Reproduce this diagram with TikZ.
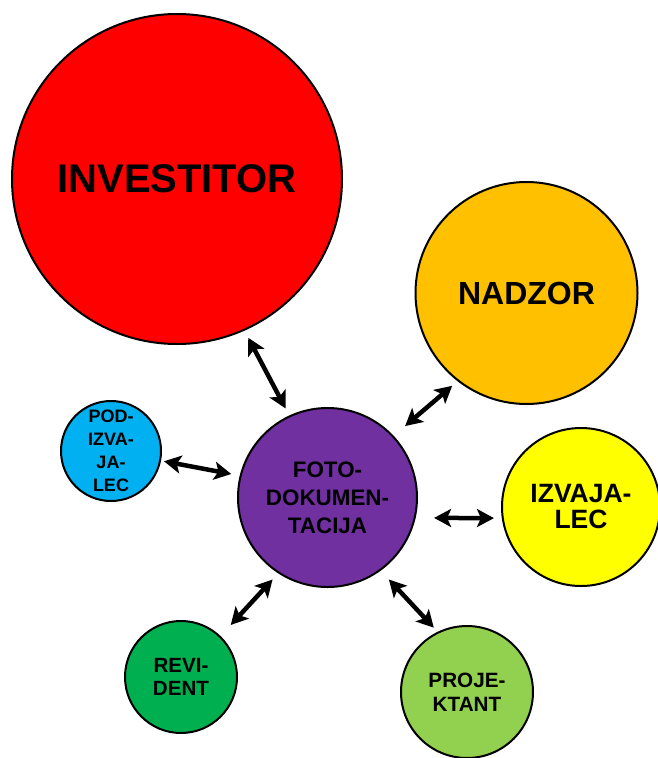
\documentclass[tikz,border=0pt]{standalone}
\usepackage{fontspec}
\setmainfont{Liberation Sans}
\usetikzlibrary{arrows.meta}

\definecolor{cInv}{HTML}{FF0000}
\definecolor{cNad}{HTML}{FFC000}
\definecolor{cFoto}{HTML}{7030A0}
\definecolor{cPod}{HTML}{00B0F0}
\definecolor{cIzv}{HTML}{FFFF00}
\definecolor{cRev}{HTML}{00B050}
\definecolor{cPro}{HTML}{92D050}

\tikzset{
  bubble/.style={circle, draw=black, line width=2pt, inner sep=0pt,
                 align=center, text=black},
  tip/.style={Stealth[length=17pt,width=18pt,inset=4pt]},
  link/.style={line width=4.5pt, {Stealth[length=17pt,width=18pt,inset=4pt]}-{Stealth[length=17pt,width=18pt,inset=4pt]}}
}

\newcommand{\fs}[2]{\bfseries\fontsize{#1}{#2}\selectfont}

\begin{document}
\begin{tikzpicture}[x=1pt,y=-1pt]
\useasboundingbox (0,0) rectangle (658,758);
\clip (0,0) rectangle (658,758);

% participants
\node[bubble, fill=cInv, minimum size=330pt, font=\fs{40}{40}] (inv) at (177,179) {INVESTITOR};
\node[bubble, fill=cNad, minimum size=222pt, font=\fs{32}{32}] (nad) at (526.5,293) {NADZOR};
\node[bubble, fill=cFoto, minimum size=179pt, font=\fs{22.4}{28}] (foto) at (327.5,497.5) {FOTO-\\DOKUMEN-\\TACIJA};
\node[bubble, fill=cPod, minimum size=100pt, font=\fs{18}{23}] (pod) at (111,451) {POD-\\IZVA-\\JA-\\LEC};
\node[bubble, fill=cIzv, minimum size=158pt, font=\fs{26.5}{26}] (izv) at (581,507) {IZVAJA-\\LEC};
\node[bubble, fill=cRev, minimum size=112pt, font=\fs{20.6}{23}] (rev) at (181,677) {REVI-\\DENT};
\node[bubble, fill=cPro, minimum size=132pt, font=\fs{20.7}{24}] (pro) at (467,692) {PROJE-\\KTANT};

% two-way links to the photo documentation
\draw[link, shorten <=8pt, shorten >=8pt] (inv.-66.8) -- (foto.115.9);
\draw[link, shorten <=7pt, shorten >=15pt] (nad.232.7) -- (foto.43.8);
\draw[link, shorten <=3pt, shorten >=8.6pt] (pod.-11.9) -- (foto.166.7);
\draw[link, shorten <=18.4pt, shorten >=7.8pt] (foto.-13.24) -- (izv.188);
\draw[link, shorten <=15pt, shorten >=8.3pt] (rev.46.7) -- (foto.237.5);
\draw[link, shorten <=12pt, shorten >=5.6pt] (foto.-54.2) -- (pro.116.6);
\end{tikzpicture}
\end{document}
